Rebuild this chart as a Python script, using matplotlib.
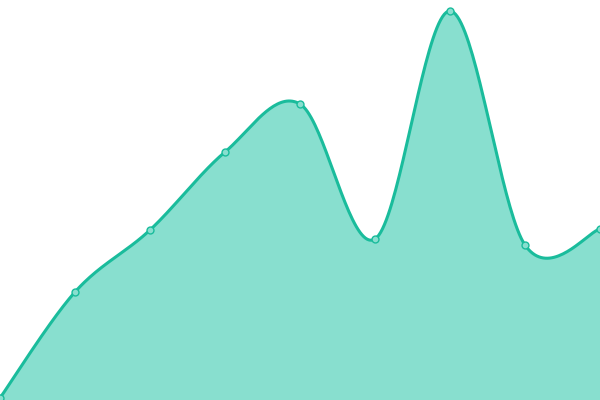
import numpy as np
import matplotlib
matplotlib.use("Agg")
import matplotlib.pyplot as plt

# data (height above bottom, in px units)
xs = [0, 1, 2, 3, 4, 5, 6, 7, 8]
values = [2, 108, 170, 248, 296, 161, 389, 155, 171]

line_color = "#1abc9c"
fill_color = "#88dfcf"


def catmull_rom(x, y, n=40):
    # smooth path through the points (drawing only)
    x = np.asarray(x, float)
    y = np.asarray(y, float)
    px = np.concatenate([[x[0]], x, [x[-1]]])
    py = np.concatenate([[y[0]], y, [y[-1]]])
    out_x, out_y = [], []
    t = np.linspace(0, 1, n, endpoint=False)
    for i in range(1, len(px) - 2):
        x0, x1, x2, x3 = px[i - 1:i + 3]
        y0, y1, y2, y3 = py[i - 1:i + 3]
        mx1, mx2 = (x2 - x0) / 2, (x3 - x1) / 2
        my1, my2 = (y2 - y0) / 2, (y3 - y1) / 2
        h00 = 2 * t**3 - 3 * t**2 + 1
        h10 = t**3 - 2 * t**2 + t
        h01 = -2 * t**3 + 3 * t**2
        h11 = t**3 - t**2
        out_x.extend(h00 * x1 + h10 * mx1 + h01 * x2 + h11 * mx2)
        out_y.extend(h00 * y1 + h10 * my1 + h01 * y2 + h11 * my2)
    out_x.append(x[-1])
    out_y.append(y[-1])
    return np.array(out_x), np.array(out_y)


sx, sy = catmull_rom(xs, values)

fig = plt.figure(figsize=(6, 4), dpi=100)
ax = fig.add_axes([0, 0, 1, 1])
ax.fill_between(sx, 0, sy, color=fill_color, linewidth=0)
ax.plot(sx, sy, color=line_color, linewidth=2.2, solid_capstyle="round")
ax.plot(xs, values, "o", markersize=5, markerfacecolor=fill_color,
        markeredgecolor=line_color, markeredgewidth=1, clip_on=False)
ax.set_xlim(0, 8)
ax.set_ylim(0, 400)
ax.axis("off")

fig.savefig("out.png", dpi=100)
